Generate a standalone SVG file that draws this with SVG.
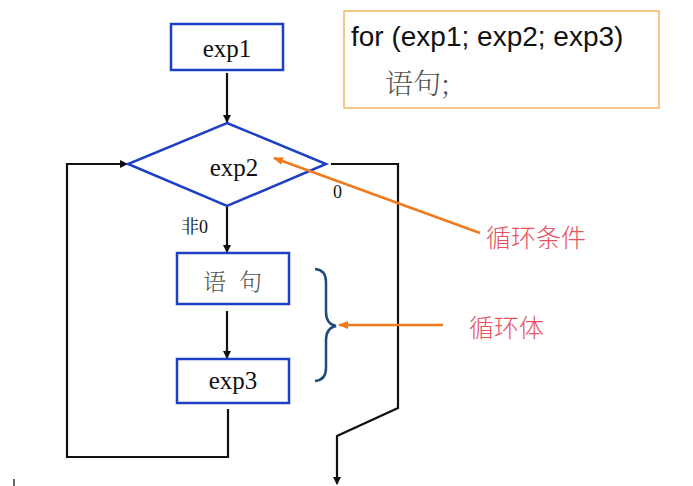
<svg xmlns="http://www.w3.org/2000/svg" width="693" height="486" viewBox="0 0 693 486">
<style>
.box{fill:#fff;stroke:#1c3fc6;stroke-width:2.5}
.conn{fill:none;stroke:#111;stroke-width:2.2}
.ora{fill:none;stroke:#f07a1e;stroke-width:2.5}
.t{font-family:"Liberation Serif","Noto Serif CJK SC","Noto Sans CJK SC",serif;fill:#111}
.cn{font-family:"Noto Sans CJK SC",sans-serif;fill:#e8505e;font-weight:300}
</style>
<defs>
<marker id="ah" markerWidth="8" markerHeight="8" refX="7" refY="4" orient="auto" markerUnits="userSpaceOnUse">
<path d="M0,0 L8,4 L0,8 Z" fill="#111"/>
</marker>
<marker id="oh" markerWidth="10" markerHeight="10" refX="9" refY="5" orient="auto" markerUnits="userSpaceOnUse">
<path d="M0,1 L10,5 L0,9 Z" fill="#f07a1e"/>
</marker>
</defs>
<rect width="693" height="486" fill="#fff"/>
<g id="code">
<rect x="344" y="11" width="315" height="97" fill="#fff" stroke="#f2b662" stroke-width="1.5"/>
<text x="351" y="46" font-family="Liberation Sans,Arial,sans-serif" font-size="28" fill="#111">for (exp1; exp2; exp3)</text>
<text x="385" y="94" font-family="Noto Serif CJK SC,Noto Sans CJK SC,serif" font-size="28" font-weight="300" fill="#555">语句;</text>
</g>
<g id="connectors">
<line class="conn" x1="227" y1="73" x2="227" y2="122" marker-end="url(#ah)"/>
<line class="conn" x1="227" y1="207" x2="227" y2="252" marker-end="url(#ah)"/>
<line class="conn" x1="227" y1="311" x2="227" y2="358" marker-end="url(#ah)"/>
<polyline class="conn" points="228,409 228,457 67,457 67,164 127,164" marker-end="url(#ah)"/>
<polyline class="conn" points="331,164 398,164 398,408 337,436 337,484" marker-end="url(#ah)"/>
<text class="t" x="333" y="198" font-size="18">0</text>
<text class="t" x="181" y="233" font-size="18">非0</text>
</g>
<g id="exp1">
<rect class="box" x="171" y="24" width="112" height="46"/>
<text class="t" x="227" y="57" font-size="25" text-anchor="middle">exp1</text>
</g>
<g id="exp2">
<polygon class="box" points="227,123 326,164 227,206 128,164"/>
<text class="t" x="234" y="176" font-size="25" text-anchor="middle">exp2</text>
</g>
<g id="stmt">
<rect class="box" x="177" y="253" width="112" height="51"/>
<text x="203" y="290" font-family="Noto Serif CJK SC,Noto Sans CJK SC,serif" font-size="23" font-weight="300" fill="#555">语</text>
<text x="239" y="290" font-family="Noto Serif CJK SC,Noto Sans CJK SC,serif" font-size="23" font-weight="300" fill="#555">句</text>
</g>
<g id="exp3">
<rect class="box" x="177" y="359" width="112" height="44"/>
<text class="t" x="233" y="389" font-size="25" text-anchor="middle">exp3</text>
</g>
<g id="brace">
<path d="M315,269 Q326,270 326,282 L326,312 Q326,324 336,326 Q326,328 326,340 L326,368 Q326,380 315,381" fill="none" stroke="#1f4a7a" stroke-width="2.5"/>
</g>
<g id="labels">
<line class="ora" x1="480" y1="233" x2="274" y2="158" marker-end="url(#oh)"/>
<text class="cn" x="486" y="247" font-size="25">循环条件</text>
<line class="ora" x1="443" y1="325" x2="339" y2="325" marker-end="url(#oh)"/>
<text class="cn" x="469" y="337" font-size="25">循环体</text>
</g>
<line x1="14" y1="479" x2="14" y2="486" stroke="#333" stroke-width="1.5"/>
</svg>
